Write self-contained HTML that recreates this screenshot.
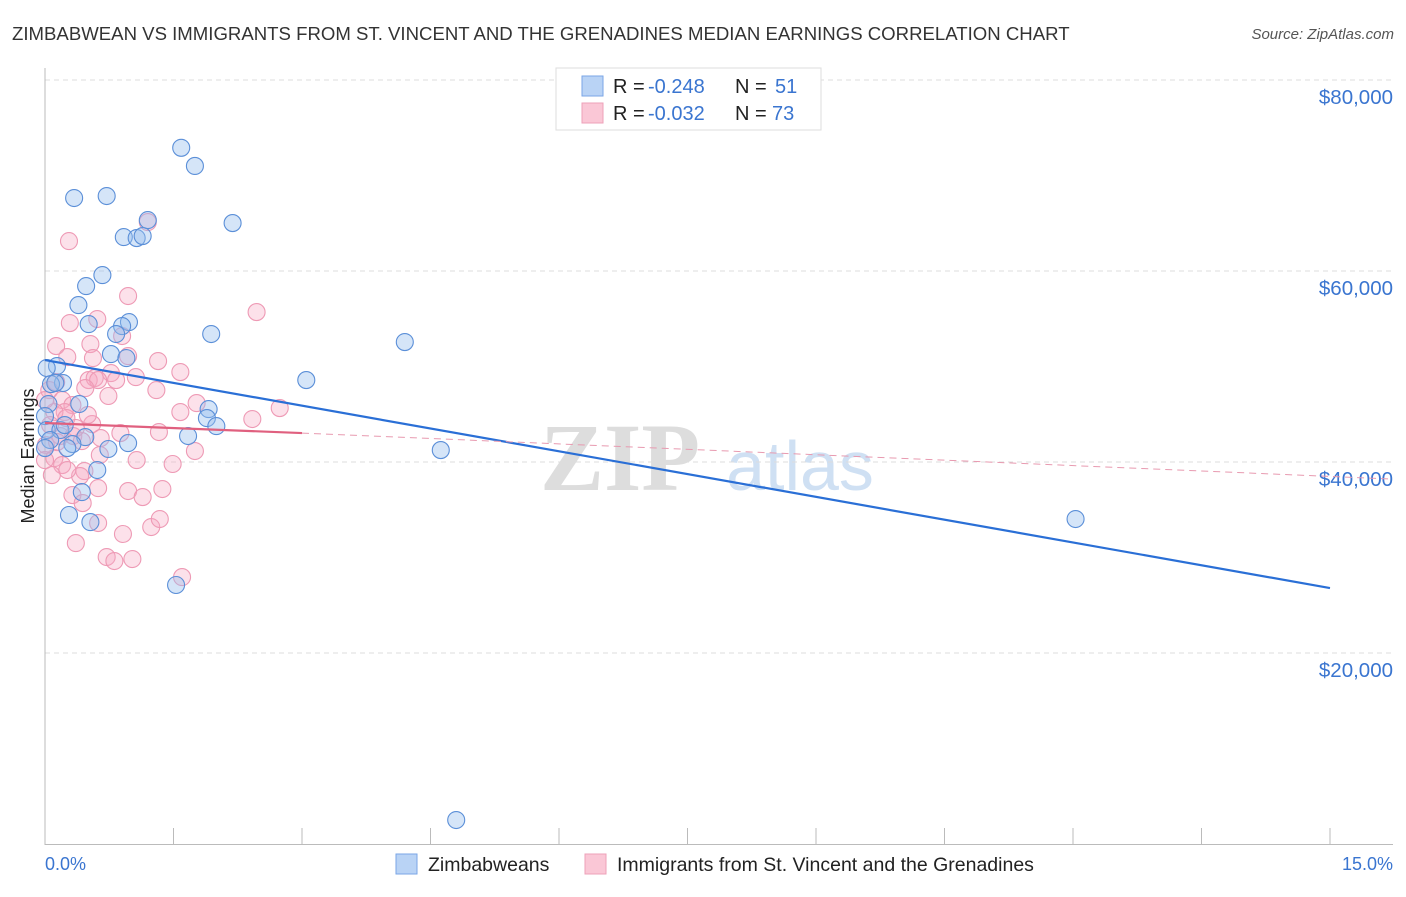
<!DOCTYPE html>
<html><head><meta charset="utf-8"><style>
body{margin:0;background:#fff;font-family:"Liberation Sans",sans-serif}
#wrap{position:relative;width:1406px;height:892px}
</style></head><body>
<div id="wrap">
<svg id="svg" width="1406" height="892" xmlns="http://www.w3.org/2000/svg">
<text x="12" y="40" font-size="18.6" fill="#333">ZIMBABWEAN VS IMMIGRANTS FROM ST. VINCENT AND THE GRENADINES MEDIAN EARNINGS CORRELATION CHART</text>
<text x="1394" y="39" font-size="15" fill="#555" font-style="italic" text-anchor="end">Source: ZipAtlas.com</text>
<text x="620" y="490" font-size="96" fill="#ddd" font-family="Liberation Serif" font-weight="bold" text-anchor="middle">ZIP</text>
<text x="800" y="490" font-size="70" fill="#cfe0f3" text-anchor="middle">atlas</text>
<g id="grid"></g><g id="pts"></g><g id="lines"></g>
<text transform="translate(34,456) rotate(-90)" font-size="18" fill="#222" text-anchor="middle">Median Earnings</text>
<text x="45" y="870" font-size="18" fill="#3a75d0">0.0%</text>
<text x="1393" y="870" font-size="18" fill="#3a75d0" text-anchor="end">15.0%</text>
<g font-size="20">
<rect x="556" y="68" width="265" height="62" fill="#fff" stroke="#ddd"/>
<rect x="582" y="76" width="21" height="20" fill="#b9d3f5" stroke="#7aa6e6"/>
<rect x="582" y="103" width="21" height="20" fill="#fac7d6" stroke="#eea0b8"/>
<text x="613" y="93" fill="#222">R =</text><text x="648" y="93" fill="#3a75d0">-0.248</text>
<text x="735" y="93" fill="#222">N =</text><text x="775" y="93" fill="#3a75d0">51</text>
<text x="613" y="120" fill="#222">R =</text><text x="648" y="120" fill="#3a75d0">-0.032</text>
<text x="735" y="120" fill="#222">N =</text><text x="772" y="120" fill="#3a75d0">73</text>
</g>
<g>
<rect x="396" y="854" width="21" height="20" fill="#b9d3f5" stroke="#7aa6e6"/>
<text x="428" y="871" font-size="19.5" fill="#222">Zimbabweans</text>
<rect x="585" y="854" width="21" height="20" fill="#fac7d6" stroke="#eea0b8"/>
<text x="617" y="871" font-size="19.5" fill="#222">Immigrants from St. Vincent and the Grenadines</text>
</g>
</svg>
</div>
<script>
const yTicks=[20000,40000,60000,80000];
const yTickLabels=["$20,000","$40,000","$60,000","$80,000"];
const blueX=[1.59,1.75,0.34,0.72,1.20,2.19,0.92,1.07,1.14,0.67,0.48,0.39,0.51,0.98,0.90,0.83,1.94,4.20,0.77,0.95,0.14,0.02,3.05,0.21,0.07,0.04,0.40,0.0,1.91,1.89,2.00,1.67,0.02,0.47,0.32,0.26,0.97,0.74,4.62,0.61,0.43,0.28,0.53,1.53,12.03,4.80,0.12,0.18,0.06,0.0,0.23];
const blueY=[72900,71000,67640,67850,65330,65020,63550,63450,63660,59570,58420,56430,54440,54650,54230,53400,53400,52560,51300,50880,50050,49840,48580,48270,48160,46070,46070,44810,45540,44600,43760,42720,43350,42610,41880,41460,41980,41360,41250,39160,36850,34450,33710,27120,34030,2510,48270,43350,42300,41460,43870];
const pinkX=[0.28,1.20,0.97,2.47,0.29,0.61,0.13,0.53,0.90,0.26,0.56,0.97,1.32,1.58,0.77,0.51,0.58,0.13,1.06,0.05,0.20,0.32,0.23,0.11,0.62,0.83,1.30,1.58,1.77,2.42,2.74,0.55,0.18,0.33,0.65,0.43,1.33,0.88,1.75,1.49,0.46,1.07,0.11,0.20,0.41,0.62,0.97,1.37,1.14,0.32,0.44,0.62,1.24,1.34,0.91,0.36,0.72,0.81,1.02,1.60,0.0,0.06,0.01,0.14,0.25,0.36,0.08,0.50,0.74,0.47,0.26,0.0,0.64];
const pinkY=[63130,65120,57380,55700,54550,54970,52140,52350,53190,50990,50880,51090,50570,49420,49310,48580,48790,48370,48890,47530,46490,45960,45230,45230,48580,48580,47530,45230,46170,44500,45650,43970,42720,42720,42510,42190,43140,43030,41150,39790,39050,40200,40410,39680,38530,37270,36960,37170,36330,36540,35700,33610,33190,34030,32460,31510,30050,29630,29840,27950,46490,43870,41780,42090,44600,43560,38630,44920,46910,47740,39160,40200,40730];
const blueTrend=[50670,26800];
const pinkTrend=[44080,43030,38420];
const NS="http://www.w3.org/2000/svg";
const X=v=>45+v/15*1285, Y=v=>844-v/20000*191;
function mk(tag,attrs,parent){const e=document.createElementNS(NS,tag);for(const k in attrs)e.setAttribute(k,attrs[k]);parent.appendChild(e);return e;}
const grid=document.getElementById('grid');
yTicks.forEach((t,i)=>{
 let l=mk('line',{x1:45,x2:1393,y1:Y(t),y2:Y(t),stroke:'#ddd','stroke-dasharray':'5,4'},grid);
 
 
 let tx=mk('text',{x:1393,y:Y(t)+24,'font-size':20.5,fill:'#3a75d0','text-anchor':'end'},grid);
 tx.textContent=yTickLabels[i];
 
 
});
let ax=mk('line',{x1:45,x2:45,y1:68,y2:845,stroke:'#bbb'},grid);


let bx=mk('line',{x1:45,x2:1393,y1:844.5,y2:844.5,stroke:'#bbb'},grid);


for(let i=0;i<=10;i++){let t=mk('line',{x1:X(i*1.5),x2:X(i*1.5),y1:828,y2:844,stroke:'#bbb'},grid);
 
 }
const pts=document.getElementById('pts');
pinkX.forEach((x,i)=>{let c=mk('circle',{cx:X(x),cy:Y(pinkY[i]),r:8.5,fill:'rgba(246,168,194,0.35)',stroke:'#ee9ab5','stroke-width':1.1},pts);
 
 });
blueX.forEach((x,i)=>{let c=mk('circle',{cx:X(x),cy:Y(blueY[i]),r:8.5,fill:'rgba(150,190,238,0.4)',stroke:'#5b8fd8','stroke-width':1.1},pts);
 
 });
const lines=document.getElementById('lines');
let bl=mk('line',{x1:X(0),y1:Y(blueTrend[0]),x2:X(15),y2:Y(blueTrend[1]),stroke:'#2a6fd6','stroke-width':2.2},lines);


let pl=mk('line',{x1:X(0),y1:Y(pinkTrend[0]),x2:X(3),y2:Y(pinkTrend[1]),stroke:'#e0607f','stroke-width':2.2},lines);


let pd=mk('line',{x1:X(3),y1:Y(pinkTrend[1]),x2:1393,y2:Y(pinkTrend[2])+2,stroke:'#e89ab0','stroke-width':1,'stroke-dasharray':'7,5'},lines);


</script>
</body></html>
